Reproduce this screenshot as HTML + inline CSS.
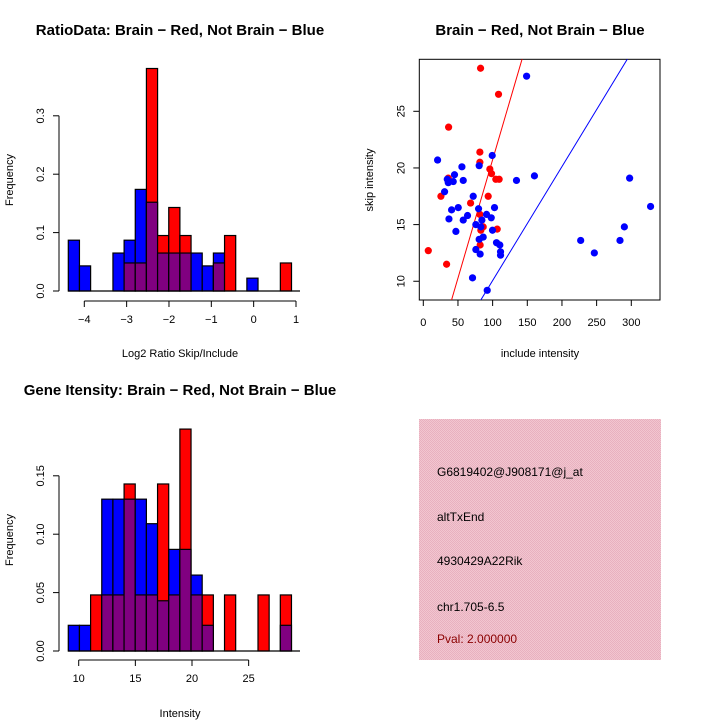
<!DOCTYPE html>
<html><head><meta charset="utf-8"><style>
body{margin:0;background:#fff}
svg{display:block;font-family:"Liberation Sans",sans-serif}
</style></head><body>
<svg id="root" width="720" height="720" viewBox="0 0 720 720" xmlns="http://www.w3.org/2000/svg">
<defs><pattern id="pk" width="2" height="2" patternUnits="userSpaceOnUse"><rect width="2" height="2" fill="#f2c6d0"/><rect width="1" height="1" fill="#e8b0bf"/><rect x="1" y="1" width="1" height="1" fill="#e8b0bf"/></pattern></defs>
<g id="p1"></g>
<g id="p2"></g>
<g id="p3"></g>
<g id="p4">
<rect x="419" y="419" width="242" height="241" fill="url(#pk)"/>
<text x="437" y="476" font-size="12">G6819402@J908171@j_at</text>
<text x="437" y="521" font-size="12">altTxEnd</text>
<text x="437" y="565" font-size="12">4930429A22Rik</text>
<text x="437" y="611" font-size="12">chr1.705-6.5</text>
<text x="437" y="643" font-size="12" fill="#8b0000">Pval: 2.000000</text>
</g>
</svg>
<script>
// Ratio histogram data (bins of 0.2636 starting -4.378)
const ratioBlue=[.087,.043,0,0,.065,.087,.174,.152,.065,.065,.065,.065,.043,.065,0,0,.022,0,0,0];
const ratioRed=[0,0,0,0,0,.048,.048,.381,.095,.143,.095,0,0,.048,.095,0,0,0,0,.048];
const ratioYTicks=[0,0.1,0.2,0.3];
const ratioXTicks=[-4,-3,-2,-1,0,1];
// Gene intensity histogram (bins of ~0.985 starting 9.08)
const geneBlue=[.022,.022,0,.130,.130,.130,.130,.109,.043,.087,.087,.065,.022,0,0,0,0,0,0,.022];
const geneRed=[0,0,.048,.048,.048,.143,.048,.048,.143,.048,.190,.048,.048,0,.048,0,0,.048,0,.048];
const geneYTicks=[0,0.05,0.10,0.15];
const geneXTicks=[10,15,20,25];
// Scatter data
const redX=[82.6,108.5,36.5,81.6,81.6,96,98.4,104.6,109.4,36,25.4,93.6,68.2,81.6,86.4,83,106.6,82,7.2,33.6];
const redY=[28.8,26.5,23.6,21.4,20.5,19.9,19.5,19.0,19.0,19.1,17.5,17.5,16.9,15.9,14.8,14.5,14.6,13.2,12.7,11.5];
const blueX=[149,20.6,80.6,99.4,55.7,34.6,45,36,43.2,57.6,134.4,160.3,297.6,30.7,72,50.4,40.8,79.7,102.7,63.8,57.6,37,91.2,98,84.5,75.8,83,47,99.8,86.4,80.6,105.6,110.4,111.4,111.4,75.8,82,71,92.2,227,246.7,283.7,290,327.8];
const blueY=[28.1,20.7,20.2,21.1,20.1,19.0,19.4,18.7,18.8,18.9,18.9,19.3,19.1,17.9,17.5,16.5,16.3,16.4,16.5,15.8,15.4,15.5,15.9,15.6,15.4,15.0,14.8,14.4,14.5,13.9,13.7,13.4,13.2,12.6,12.3,12.8,12.4,10.3,9.2,13.6,12.5,13.6,14.8,16.6];
const redLine=[-0.17,0.209];
const blueLine=[0,0.1006];
const scXTicks=[0,50,100,150,200,250,300];
const scYTicks=[10,15,20,25];

const NS='http://www.w3.org/2000/svg';
function mk(parent,tag,attrs,txt){const e=document.createElementNS(NS,tag);for(const k in attrs)e.setAttribute(k,attrs[k]);if(txt!==undefined)e.textContent=txt;parent.appendChild(e);return e;}
function txt(parent,x,y,s,size,rot,bold,anchor){const a={x:x,y:y,'font-size':size,'text-anchor':anchor||'middle'};if(bold)a['font-weight']='bold';if(rot)a.transform='rotate(-90 '+x+' '+y+')';return mk(parent,'text',a,s);}

function hist(g,o){
  const sx=v=>o.x0+(v-o.v0)*o.xs, sy=v=>o.y0-v*o.ys;
  for(let i=0;i<o.blue.length;i++){
    const a=o.bs+i*o.bw,x=sx(a),w=o.bw*o.xs;
    const b=o.blue[i],r=o.red[i];
    const top=Math.max(b,r),m=Math.min(b,r);
    if(top>0){const c=b>=r?'#0000ff':'#ff0000';
      const e=mk(g,'rect',{x:x,y:sy(top),width:w,height:top*o.ys,fill:c,stroke:'#000','stroke-width':1.2});
      
      }
    if(m>0){const e=mk(g,'rect',{x:x,y:sy(m),width:w,height:m*o.ys,fill:'#800080',stroke:'#000','stroke-width':1.2});
      
      }
  }
  mk(g,'line',{x1:o.bl0,x2:o.bl1,y1:o.y0,y2:o.y0,stroke:'#000','stroke-width':1.2});
  const ya=mk(g,'g',{});
  mk(ya,'line',{x1:o.ax,x2:o.ax,y1:sy(o.yt[0]),y2:sy(o.yt[o.yt.length-1]),stroke:'#000'});
  o.yt.forEach(t=>{mk(ya,'line',{x1:o.ax-6,x2:o.ax,y1:sy(t),y2:sy(t),stroke:'#000'});txt(ya,o.ax-15,sy(t),o.fmt(t),11,true);});
  const xa=mk(g,'g',{});
  const ay=o.axY;
  mk(xa,'line',{x1:sx(o.xt[0]),x2:sx(o.xt[o.xt.length-1]),y1:ay,y2:ay,stroke:'#000'});
  o.xt.forEach(t=>{mk(xa,'line',{x1:sx(t),x2:sx(t),y1:ay,y2:ay+6,stroke:'#000'});txt(xa,sx(t),ay+22,String(t).replace('-','\u2212'),11);});
  const t1=txt(g,o.tx,o.ty,o.title,15,false,true);
  const t2=txt(g,o.tx,o.xly,o.xlab,11);
  const t3=txt(g,13,o.yly,'Frequency',11,true);
}
hist(document.getElementById('p1'),{blue:ratioBlue,red:ratioRed,bs:-4.378,bw:0.2636,v0:-4,x0:84.3,xs:42.34,y0:291,ys:584,ax:59,axY:301,bl0:68,bl1:300,yt:ratioYTicks,xt:ratioXTicks,fmt:t=>t.toFixed(1),title:'RatioData: Brain \u2212 Red, Not Brain \u2212 Blue',tx:180,ty:35,xlab:'Log2 Ratio Skip/Include',xly:357,yly:180});
hist(document.getElementById('p3'),{blue:geneBlue,red:geneRed,bs:9.08,bw:0.985,v0:10,x0:78.7,xs:11.33,y0:651,ys:1168,ax:59,axY:660,bl0:68,bl1:300,yt:geneYTicks,xt:geneXTicks,fmt:t=>t.toFixed(2),title:'Gene Itensity: Brain \u2212 Red, Not Brain \u2212 Blue',tx:180,ty:395,xlab:'Intensity',xly:717,yly:540});

(function(){
  const g=document.getElementById('p2');
  const L=419.3,R=660,T=59.3,B=300;
  const sx=v=>423.3+v*0.6933, sy=v=>111.3-(v-25)*11.33;
  mk(g,'clipPath',{id:'sc'}).appendChild(document.createElementNS(NS,'rect'));
  const cr=g.querySelector('#sc rect');cr.setAttribute('x',L);cr.setAttribute('y',T);cr.setAttribute('width',R-L);cr.setAttribute('height',B-T);
  const fr=mk(g,'rect',{x:L,y:T,width:R-L,height:B-T,fill:'none',stroke:'#000'});
  const cg=mk(g,'g',{'clip-path':'url(#sc)'});
  [[redLine,'#ff0000','fit-line-red'],[blueLine,'#0000ff','fit-line-blue']].forEach(([ln,c,n])=>{
    const e=mk(cg,'line',{x1:sx(-20),y1:sy(ln[0]+ln[1]*-20),x2:sx(400),y2:sy(ln[0]+ln[1]*400),stroke:c,'stroke-width':1});
    });
  redX.forEach((x,i)=>{const e=mk(cg,'circle',{cx:sx(x),cy:sy(redY[i]),r:3.6,fill:'#ff0000'});
    });
  blueX.forEach((x,i)=>{const e=mk(cg,'circle',{cx:sx(x),cy:sy(blueY[i]),r:3.6,fill:'#0000ff'});
    });
  const xa=mk(g,'g',{});
  scXTicks.forEach(t=>{mk(xa,'line',{x1:sx(t),x2:sx(t),y1:B,y2:B+6,stroke:'#000'});txt(xa,sx(t),B+26,String(t),11);});
  const ya=mk(g,'g',{});
  scYTicks.forEach(t=>{mk(ya,'line',{x1:L-6,x2:L,y1:sy(t),y2:sy(t),stroke:'#000'});txt(ya,L-15,sy(t),String(t),11,true);});
  const t1=txt(g,540,35,'Brain \u2212 Red, Not Brain \u2212 Blue',15,false,true);
  const t2=txt(g,540,357,'include intensity',11);
  const t3=txt(g,373,180,'skip intensity',11,true);
})();
</script>
</body></html>
